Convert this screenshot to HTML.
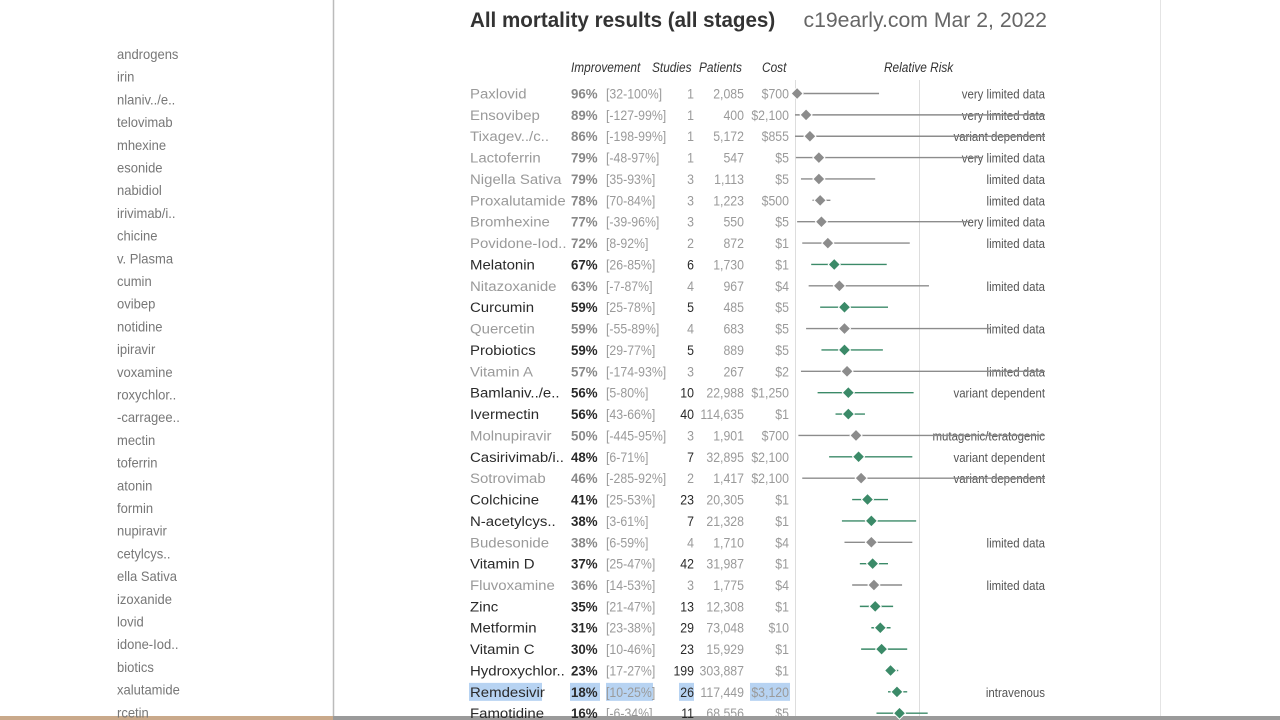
<!DOCTYPE html>
<html><head><meta charset="utf-8"><style>
html,body{margin:0;padding:0;background:#fff;width:1280px;height:720px;overflow:hidden}
svg{display:block}
</style></head><body>
<svg id="s" width="1280" height="720" xmlns="http://www.w3.org/2000/svg" font-family="'Liberation Sans', sans-serif">
<rect width="1280" height="720" fill="#fff"/>
<line x1="333.5" y1="0" x2="333.5" y2="716" stroke="#bbb" stroke-width="1.5"/>
<line x1="1160.5" y1="0" x2="1160.5" y2="716" stroke="#e4e4e4" stroke-width="1"/>
<rect x="0" y="716" width="1280" height="4" fill="#9a9a9a"/>
<rect x="0" y="716" width="333" height="4" fill="#c9a98a"/>
<text x="470" y="27" font-size="21" font-weight="bold" fill="#333" transform="translate(470,0) scale(0.98,1) translate(-470,0)">All mortality results (all stages)</text>
<text x="1047" y="27" font-size="21" fill="#666" text-anchor="end" transform="translate(1047,0) scale(1.01,1) translate(-1047,0)">c19early.com Mar 2, 2022</text>
<line x1="795.5" y1="80" x2="795.5" y2="716" stroke="#ddd"/>
<line x1="919.5" y1="80" x2="919.5" y2="716" stroke="#ddd"/>
<g id="g"></g>
</svg>
<script>
var rows=[
["Paxlovid",96,"32-100%",1,"2,085","$700",0,"very limited data"],
["Ensovibep",89,"-127-99%",1,"400","$2,100",0,"very limited data"],
["Tixagev../c..",86,"-198-99%",1,"5,172","$855",0,"variant dependent"],
["Lactoferrin",79,"-48-97%",1,"547","$5",0,"very limited data"],
["Nigella Sativa",79,"35-93%",3,"1,113","$5",0,"limited data"],
["Proxalutamide",78,"70-84%",3,"1,223","$500",0,"limited data"],
["Bromhexine",77,"-39-96%",3,"550","$5",0,"very limited data"],
["Povidone-Iod..",72,"8-92%",2,"872","$1",0,"limited data"],
["Melatonin",67,"26-85%",6,"1,730","$1",1,""],
["Nitazoxanide",63,"-7-87%",4,"967","$4",0,"limited data"],
["Curcumin",59,"25-78%",5,"485","$5",1,""],
["Quercetin",59,"-55-89%",4,"683","$5",0,"limited data"],
["Probiotics",59,"29-77%",5,"889","$5",1,""],
["Vitamin A",57,"-174-93%",3,"267","$2",0,"limited data"],
["Bamlaniv../e..",56,"5-80%",10,"22,988","$1,250",1,"variant dependent"],
["Ivermectin",56,"43-66%",40,"114,635","$1",1,""],
["Molnupiravir",50,"-445-95%",3,"1,901","$700",0,"mutagenic/teratogenic"],
["Casirivimab/i..",48,"6-71%",7,"32,895","$2,100",1,"variant dependent"],
["Sotrovimab",46,"-285-92%",2,"1,417","$2,100",0,"variant dependent"],
["Colchicine",41,"25-53%",23,"20,305","$1",1,""],
["N-acetylcys..",38,"3-61%",7,"21,328","$1",1,""],
["Budesonide",38,"6-59%",4,"1,710","$4",0,"limited data"],
["Vitamin D",37,"25-47%",42,"31,987","$1",1,""],
["Fluvoxamine",36,"14-53%",3,"1,775","$4",0,"limited data"],
["Zinc",35,"21-47%",13,"12,308","$1",1,""],
["Metformin",31,"23-38%",29,"73,048","$10",1,""],
["Vitamin C",30,"10-46%",23,"15,929","$1",1,""],
["Hydroxychlor..",23,"17-27%",199,"303,887","$1",1,""],
["Remdesivir",18,"10-25%",26,"117,449","$3,120",1,"intravenous"],
["Famotidine",16,"-6-34%",11,"68,556","$5",1,""]];
var left=["androgens","irin","nlaniv../e..","telovimab","mhexine","esonide","nabidiol","irivimab/i..","chicine","v. Plasma","cumin","ovibep","notidine","ipiravir","voxamine","roxychlor..","-carragee..","mectin","toferrin","atonin","formin","nupiravir","cetylcys..","ella Sativa","izoxanide","lovid","idone-Iod..","biotics","xalutamide","rcetin"];
var h="";
function T(x,y,s,o){o=o||{};var a=o.a||"start";var sx=o.sx||0.88;
return '<text x="'+x+'" y="'+y+'" font-size="'+(o.fs||14)+'" fill="'+(o.c||"#333")+'" text-anchor="'+a+'"'+(o.b?' font-weight="bold"':'')+' transform="translate('+x+',0) scale('+sx+',1) translate('+(-x)+',0)"'+'>'+s+'</text>';}
left.forEach(function(s,i){h+=T(117,59+i*22.7,s,{c:"#777",sx:0.93});});
var hy=72;
h+=T(571,hy,"Improvement",{c:"#333",fs:13.5});
h+=T(652,hy,"Studies",{c:"#333",fs:13.5});
h+=T(699,hy,"Patients",{c:"#333",fs:13.5});
h+=T(762,hy,"Cost",{c:"#333",fs:13.5});
h+=T(884,hy,"Relative Risk",{c:"#333",fs:13.5});
h=h.replace(/font-size="13.5"/g,'font-size="13.5" font-style="italic"');
function X(rr){return 792+128*rr;}
rows.forEach(function(r,i){
 var y=93.5+i*21.37, by=y+5;
 var g=r[6], G="#9a9a9a", K="#2a2a2a";
 if(r[0]=="Remdesivir"){
  h+='<rect x="469" y="'+(y-9)+'" width="73" height="18" fill="#b7d3f2"/>';
  h+='<rect x="570" y="'+(y-9)+'" width="30" height="18" fill="#b7d3f2"/>';
  h+='<rect x="606" y="'+(y-9)+'" width="47" height="18" fill="#b7d3f2"/>';
  h+='<rect x="679" y="'+(y-9)+'" width="15" height="18" fill="#b7d3f2"/>';
  h+='<rect x="750" y="'+(y-9)+'" width="40" height="18" fill="#b7d3f2"/>';
 }
 h+=T(470,by,r[0],{c:g?K:G,sx:1.07});
 h+=T(571,by,r[1]+"%",{c:g?K:"#888",b:1,sx:0.95});
 h+=T(606,by,"["+r[2]+"]",{c:G});
 h+=T(694,by,r[3],{c:g?K:G,a:"end"});
 h+=T(744,by,r[4],{c:G,a:"end"});
 h+=T(789,by,r[5],{c:G,a:"end"});
 var p=r[2].match(/^(-?\d+)-(\d+)%$/);var lo=+p[1],hi=+p[2];
 var x1=Math.max(795,X(1-hi/100)),x2=Math.min(1045,X(1-lo/100)),xc=X(1-r[1]/100);
 var col=g?"#3b8a68":"#8c8c8c";
 if(r[7]) h+=T(1045,by,r[7],{c:"#555",a:"end",fs:13});
 h+='<line x1="'+x1+'" y1="'+y+'" x2="'+x2+'" y2="'+y+'" stroke="'+col+'" stroke-width="1.4"/>';
 h+='<polygon points="'+(xc-6)+','+y+' '+xc+','+(y-6)+' '+(xc+6)+','+y+' '+xc+','+(y+6)+'" fill="'+col+'" stroke="#fff" stroke-width="1"/>';
});
document.getElementById("g").innerHTML=h;
</script>
</body></html>
